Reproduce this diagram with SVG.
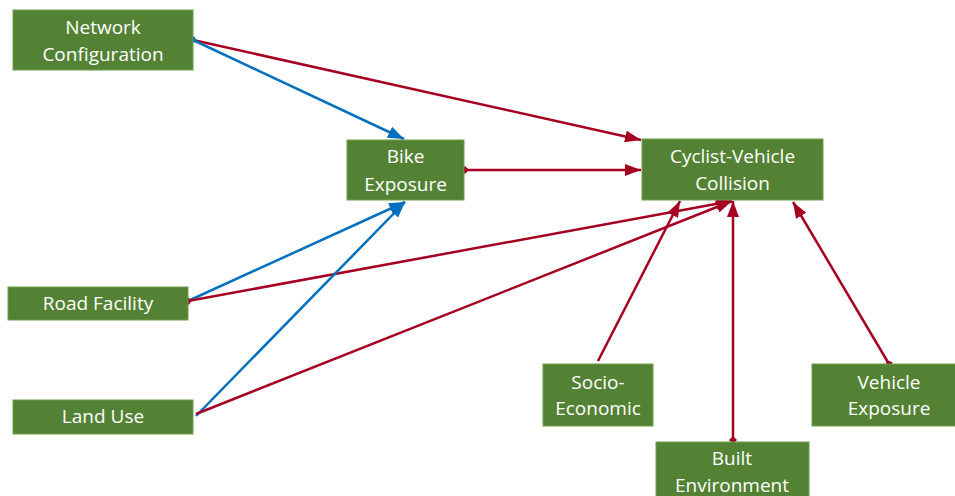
<svg xmlns="http://www.w3.org/2000/svg" width="955" height="496" viewBox="0 0 955 496">
<style>
.box{fill:#548235;stroke:#6E9E4A;stroke-width:1}
.t{fill:#fff;font-family:"Open Sans","Noto Sans",sans-serif;font-size:19px;text-anchor:middle}
.blue{stroke:#0070C0;stroke-width:2.5;fill:none}
.red{stroke:#A50021;stroke-width:2.5;fill:none}
</style>
<defs>
<marker id="ab" markerUnits="userSpaceOnUse" viewBox="0 0 16 12" refX="16" refY="6" markerWidth="16" markerHeight="12" orient="auto"><path d="M0,0 L16,6 L0,12 Z" fill="#0070C0"/></marker>
<marker id="ar" markerUnits="userSpaceOnUse" viewBox="0 0 16 12" refX="16" refY="6" markerWidth="16" markerHeight="12" orient="auto"><path d="M0,0 L16,6 L0,12 Z" fill="#A50021"/></marker>
<marker id="db" markerUnits="userSpaceOnUse" viewBox="0 0 8 8" refX="4" refY="4" markerWidth="8" markerHeight="8" orient="auto"><path d="M0,4 L4,0 L8,4 L4,8 Z" fill="#0070C0"/></marker>
<marker id="dr" markerUnits="userSpaceOnUse" viewBox="0 0 8 8" refX="4" refY="4" markerWidth="8" markerHeight="8" orient="auto"><path d="M0,4 L4,0 L8,4 L4,8 Z" fill="#A50021"/></marker>
</defs>
<g id="connectors">
<line class="red" x1="193" y1="40" x2="641" y2="140" marker-end="url(#ar)"/>
<line class="blue" x1="193" y1="40" x2="404" y2="139" marker-start="url(#db)" marker-end="url(#ab)"/>
<line class="red" x1="465" y1="170" x2="641" y2="170" marker-start="url(#dr)" marker-end="url(#ar)"/>
<line class="blue" x1="188" y1="301" x2="405" y2="202" marker-end="url(#ab)"/>
<line class="red" x1="188" y1="301" x2="732" y2="201" marker-start="url(#dr)" marker-end="url(#ar)"/>
<line class="blue" x1="196" y1="416" x2="405" y2="202" marker-end="url(#ab)"/>
<line class="red" x1="196" y1="414" x2="732" y2="201" marker-end="url(#ar)"/>
<line class="red" x1="598" y1="361" x2="680" y2="201" marker-end="url(#ar)"/>
<line class="red" x1="733" y1="440" x2="733" y2="201" marker-start="url(#dr)" marker-end="url(#ar)"/>
<line class="red" x1="889" y1="364" x2="793" y2="202" marker-start="url(#dr)" marker-end="url(#ar)"/>
</g>
<g id="network-configuration">
<rect class="box" x="13" y="10" width="180" height="60"/>
<text class="t" x="103" y="34">Network</text>
<text class="t" x="103" y="61">Configuration</text>
</g>
<g id="bike-exposure">
<rect class="box" x="347" y="140" width="117" height="60"/>
<text class="t" x="405.5" y="163">Bike</text>
<text class="t" x="405.5" y="191">Exposure</text>
</g>
<g id="cyclist-vehicle-collision">
<rect class="box" x="642" y="139" width="181" height="61"/>
<text class="t" x="732.5" y="163">Cyclist-Vehicle</text>
<text class="t" x="732.5" y="190">Collision</text>
</g>
<g id="road-facility">
<rect class="box" x="8" y="287" width="180" height="33"/>
<text class="t" x="98" y="310">Road Facility</text>
</g>
<g id="land-use">
<rect class="box" x="13" y="400" width="180" height="34"/>
<text class="t" x="103" y="423">Land Use</text>
</g>
<g id="socio-economic">
<rect class="box" x="543" y="364" width="110" height="62"/>
<text class="t" x="598" y="389">Socio-</text>
<text class="t" x="598" y="415">Economic</text>
</g>
<g id="built-environment">
<rect class="box" x="656" y="442" width="153" height="60"/>
<text class="t" x="732" y="465">Built</text>
<text class="t" x="732" y="492">Environment</text>
</g>
<g id="vehicle-exposure">
<rect class="box" x="812" y="364" width="150" height="62"/>
<text class="t" x="889" y="389">Vehicle</text>
<text class="t" x="889" y="415">Exposure</text>
</g>
</svg>
